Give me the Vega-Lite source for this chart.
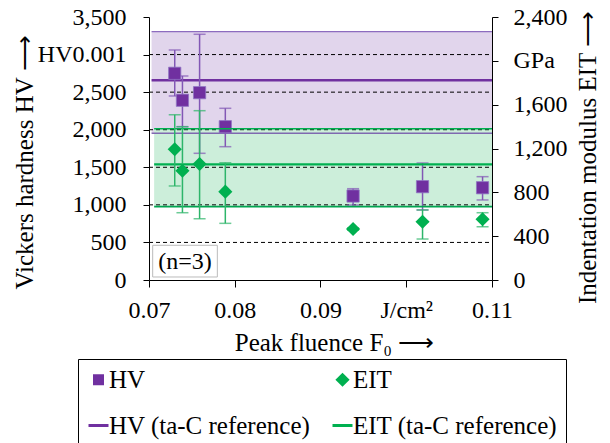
{
 "$schema": "https://vega.github.io/schema/vega-lite/v6.json",
 "width": 343,
 "height": 263,
 "autosize": {"type": "none"},
 "padding": {"left": 149, "top": 17, "right": 118, "bottom": 163},
 "background": "white",
 "config": {
  "view": {"stroke": null},
  "font": "Liberation Serif",
  "axis": {"labelFont": "Liberation Serif", "labelFontSize": 24, "labelColor": "black", "titleFont": "Liberation Serif", "titleFontSize": 25, "titleFontWeight": "normal", "titleColor": "black", "domainColor": "black", "tickColor": "black", "grid": false, "labelFlush": false, "labelOverlap": false},
  "legend": {"labelFont": "Liberation Serif", "labelFontSize": 25, "labelColor": "black", "labelLimit": 400}
 },
 "datasets": {
  "pts": [
   {"F": 0.0730, "HV": 2751, "HVlo": 2449, "HVhi": 3061, "E": 1193, "Elo": 858, "Ehi": 1508},
   {"F": 0.0739, "HV": 2392, "HVlo": 2040, "HVhi": 2715, "E": 997, "Elo": 614, "Ehi": 1399},
   {"F": 0.0759, "HV": 2493, "HVlo": 1686, "HVhi": 3270, "E": 1059, "Elo": 559, "Ehi": 1545},
   {"F": 0.0789, "HV": 2040, "HVlo": 1774, "HVhi": 2285, "E": 806, "Elo": 517, "Ehi": 1070},
   {"F": 0.0938, "HV": 1118, "HVlo": 998, "HVhi": 1215, "E": 465, "Elo": 455, "Ehi": 475},
   {"F": 0.1019, "HV": 1242, "HVlo": 932, "HVhi": 1557, "E": 532, "Elo": 374, "Ehi": 639},
   {"F": 0.1089, "HV": 1228, "HVlo": 1065, "HVhi": 1375, "E": 554, "Elo": 486, "Ehi": 614}
  ],
  "hvref": [{"F": 0.0703, "F2": 0.11, "mean": 2658, "lo": 1953, "hi": 3305}],
  "eref": [{"F": 0.0706, "F2": 0.11, "mean": 1056, "lo": 670, "hi": 1381}],
  "grid": [
   {"F": 0.07, "F2": 0.11, "v": 500},
   {"F": 0.07, "F2": 0.11, "v": 1000},
   {"F": 0.07, "F2": 0.11, "v": 1500},
   {"F": 0.07, "F2": 0.11, "v": 2000},
   {"F": 0.07, "F2": 0.11, "v": 2500},
   {"F": 0.07, "F2": 0.11, "v": 3000}
  ],
  "notebox": [{"F": 0.07043, "F2": 0.07797, "lo": 40, "hi": 462}],
  "notetext": [{"F": 0.0742, "mid": 240, "label": "(n=3)"}],
  "series": [{"s": "HV"}, {"s": "EIT"}, {"s": "HV (ta-C reference)"}, {"s": "EIT (ta-C reference)"}]
 },
 "encoding": {
  "x": {
   "field": "F", "type": "quantitative",
   "scale": {"domain": [0.07, 0.11], "nice": false, "zero": false},
   "axis": {"title": "Peak fluence F₀ ⟶", "values": [0.07, 0.08, 0.09, 0.1, 0.11], "labelExpr": "abs(datum.value-0.1)<0.0001 ? 'J/cm²' : format(datum.value,'.2f')", "tickSize": 7, "labelBaseline": "alphabetic", "labelPadding": 30, "titleX": 185, "titleY": 70, "titleBaseline": "alphabetic", "titleAlign": "center"}
  }
 },
 "resolve": {"scale": {"y": "independent"}},
 "layer": [
  {
   "data": {"name": "hvref"},
   "mark": {"type": "rect", "fill": "#E1D5EC"},
   "encoding": {
    "x2": {"field": "F2"},
    "y": {"field": "lo", "type": "quantitative", "scale": {"domain": [0, 3500], "nice": false},
     "axis": {"orient": "left", "title": "Vickers hardness HV ⟶", "values": [0, 500, 1000, 1500, 2000, 2500, 3000, 3500], "labelExpr": "datum.value==3000 ? 'HV0.001' : format(datum.value, ',')", "tickSize": 6, "labelPadding": 17, "titlePadding": 0, "titleY": 145}},
    "y2": {"field": "hi"}
   }
  },
  {
   "data": {"name": "eref"},
   "mark": {"type": "rect", "fill": "#CCEEDA"},
   "encoding": {
    "x2": {"field": "F2"},
    "y": {"field": "lo", "type": "quantitative", "scale": {"domain": [0, 2400], "nice": false},
     "axis": {"orient": "right", "title": "Indentation modulus EIT ⟶", "values": [0, 400, 800, 1200, 1600, 2000, 2400], "labelExpr": "datum.value==2000 ? 'GPa' : format(datum.value, ',')", "tickSize": 6, "labelPadding": 15, "titleAngle": 270, "titleBaseline": "top", "titlePadding": 8, "titleY": 140}},
    "y2": {"field": "hi"}
   }
  },
  {
   "layer": [
    {
     "data": {"name": "grid"},
     "mark": {"type": "rule", "color": "black", "strokeWidth": 1, "strokeDash": [4, 3]},
     "encoding": {
      "x2": {"field": "F2"},
      "y": {"field": "v", "type": "quantitative", "scale": {"domain": [0, 3500], "nice": false},
       "axis": {"orient": "left", "values": [0, 500, 1000, 1500, 2000, 2500, 3000, 3500], "tickSize": -6, "labels": false, "domain": false, "title": null}}
     }
    },
    {
     "data": {"name": "hvref"},
     "mark": {"type": "rule", "color": "#8D6CBF", "strokeWidth": 1.3},
     "encoding": {"x2": {"field": "F2"}, "y": {"field": "hi", "type": "quantitative", "axis": null}}
    },
    {
     "data": {"name": "hvref"},
     "mark": {"type": "rule", "color": "#7F68B0", "strokeWidth": 1.3},
     "encoding": {"x2": {"field": "F2"}, "y": {"field": "lo", "type": "quantitative", "axis": null}}
    },
    {
     "data": {"name": "hvref"},
     "mark": {"type": "rule", "color": "#7030A0", "strokeWidth": 2.3},
     "encoding": {"x2": {"field": "F2"}, "y": {"field": "mean", "type": "quantitative", "axis": null}}
    },
    {
     "data": {"name": "pts"},
     "mark": {"type": "errorbar", "color": "#8257B5", "thickness": 1.5, "ticks": {"size": 12, "thickness": 1.5, "color": "#8257B5"}},
     "encoding": {"y": {"field": "HVlo", "type": "quantitative", "axis": null}, "y2": {"field": "HVhi"}}
    },
    {
     "data": {"name": "pts"},
     "mark": {"type": "point", "shape": "square", "filled": true, "size": 150, "opacity": 1, "color": "#7030A0", "stroke": "#9176C4", "strokeWidth": 0.8},
     "encoding": {"y": {"field": "HV", "type": "quantitative", "axis": null}}
    },
    {
     "data": {"name": "notebox"},
     "mark": {"type": "rect", "fill": "white", "stroke": "#BBBBBB", "strokeWidth": 1},
     "encoding": {"x2": {"field": "F2"}, "y": {"field": "lo", "type": "quantitative", "axis": null}, "y2": {"field": "hi"}}
    },
    {
     "data": {"name": "notetext"},
     "mark": {"type": "text", "fontSize": 24, "font": "Liberation Serif", "color": "black", "align": "center", "baseline": "middle"},
     "encoding": {"y": {"field": "mid", "type": "quantitative", "axis": null}, "text": {"field": "label"}}
    }
   ]
  },
  {
   "layer": [
    {
     "data": {"name": "eref"},
     "mark": {"type": "rule", "color": "#00B050", "strokeWidth": 1.5},
     "encoding": {"x2": {"field": "F2"}, "y": {"field": "hi", "type": "quantitative", "scale": {"domain": [0, 2400], "nice": false},
      "axis": {"orient": "right", "values": [0, 400, 800, 1200, 1600, 2000, 2400], "tickSize": -3, "labels": false, "domain": false, "title": null}}}
    },
    {
     "data": {"name": "eref"},
     "mark": {"type": "rule", "color": "#00A550", "strokeWidth": 1.8},
     "encoding": {"x2": {"field": "F2"}, "y": {"field": "lo", "type": "quantitative", "axis": null}}
    },
    {
     "data": {"name": "eref"},
     "mark": {"type": "rule", "color": "#00B050", "strokeWidth": 2.3},
     "encoding": {"x2": {"field": "F2"}, "y": {"field": "mean", "type": "quantitative", "axis": null}}
    },
    {
     "data": {"name": "pts"},
     "mark": {"type": "errorbar", "color": "#2DB56A", "thickness": 1.5, "ticks": {"size": 12, "thickness": 1.5, "color": "#2DB56A"}},
     "encoding": {"y": {"field": "Elo", "type": "quantitative", "axis": null}, "y2": {"field": "Ehi"}}
    },
    {
     "data": {"name": "pts"},
     "mark": {"type": "point", "shape": "diamond", "filled": true, "size": 200, "opacity": 1, "color": "#00B050"},
     "encoding": {"y": {"field": "E", "type": "quantitative", "axis": null}}
    }
   ]
  },
  {
   "data": {"name": "series"},
   "mark": {"type": "point", "filled": true, "strokeWidth": 3, "opacity": 1},
   "encoding": {
    "fill": {"field": "s", "type": "nominal",
     "scale": {"domain": ["HV", "EIT", "HV (ta-C reference)", "EIT (ta-C reference)"], "range": ["#7030A0", "#00B050", "#7030A0", "#00B050"]},
     "legend": {"title": null, "orient": "none", "direction": "horizontal", "legendX": -71, "legendY": 342, "columns": 2, "columnPadding": 15, "rowPadding": 20, "padding": 8, "strokeColor": "black", "labelOffset": -2, "labelFontSize": 25, "symbolStrokeWidth": 3}},
    "stroke": {"field": "s", "type": "nominal",
     "scale": {"domain": ["HV", "EIT", "HV (ta-C reference)", "EIT (ta-C reference)"], "range": ["#7030A0", "#00B050", "#7030A0", "#00B050"]},
     "legend": {"title": null, "orient": "none", "direction": "horizontal", "legendX": -71, "legendY": 342, "columns": 2, "columnPadding": 15, "rowPadding": 20, "padding": 8, "strokeColor": "black", "labelOffset": -2, "labelFontSize": 25, "symbolStrokeWidth": 3}},
    "shape": {"field": "s", "type": "nominal",
     "scale": {"domain": ["HV", "EIT", "HV (ta-C reference)", "EIT (ta-C reference)"], "range": ["square", "diamond", "stroke", "stroke"]},
     "legend": {"title": null, "orient": "none", "direction": "horizontal", "legendX": -71, "legendY": 342, "columns": 2, "columnPadding": 15, "rowPadding": 20, "padding": 8, "strokeColor": "black", "labelOffset": -2, "labelFontSize": 25, "symbolStrokeWidth": 3}},
    "size": {"field": "s", "type": "ordinal",
     "scale": {"type": "ordinal", "domain": ["HV", "EIT", "HV (ta-C reference)", "EIT (ta-C reference)"], "range": [64, 100, 400, 400]},
     "legend": {"title": null, "orient": "none", "direction": "horizontal", "legendX": -71, "legendY": 342, "columns": 2, "columnPadding": 15, "rowPadding": 20, "padding": 8, "strokeColor": "black", "labelOffset": -2, "labelFontSize": 25, "symbolStrokeWidth": 3}}
   }
  }
 ]
}
